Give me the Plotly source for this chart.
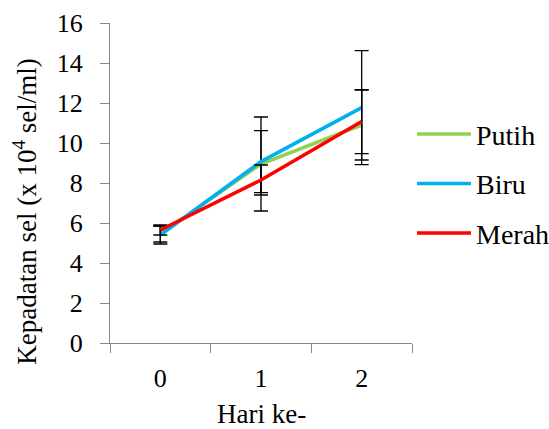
import plotly.graph_objects as go

days = ["0", "1", "2"]
series_names = ["Putih", "Biru", "Merah"]
putih = [5.45, 8.95, 10.9]
biru = [5.4, 9.07, 11.77]
merah = [5.65, 8.15, 11.07]
putih_err = [0.4, 2.35, 1.75]
biru_err = [0.45, 1.55, 2.85]
merah_err = [0.25, 0.75, 1.6]
colors = ["#92D050", "#00B0F0", "#FF0000"]
y_ticks = [0, 2, 4, 6, 8, 10, 12, 14, 16]

FONT = "Liberation Serif"
fig = go.Figure()
for i, (name, vals, err, col) in enumerate(zip(series_names, [putih, biru, merah],
                                                [putih_err, biru_err, merah_err], colors)):
    fig.add_trace(go.Scatter(
        x=days, y=vals, name=name, mode="lines",
        line=dict(color=col, width=3.5),
        error_y=dict(type="data", array=err, visible=True, color="black",
                     thickness=1.3, width=7),
        legendgroup=name,
    ))

fig.update_layout(
    width=549, height=429,
    margin=dict(l=110, r=137, t=23, b=86, autoexpand=False),
    paper_bgcolor="white", plot_bgcolor="white",
    font=dict(family=FONT, size=26, color="black"),
    showlegend=True,
    legend=dict(x=1.0, xanchor="left", y=0.73, yanchor="top",
                font=dict(family=FONT, size=28, color="black"),
                traceorder="grouped", tracegroupgap=10, itemwidth=54,
                bgcolor="rgba(0,0,0,0)"),
    xaxis=dict(type="category", range=[-0.5, 2.5], tickson="boundaries",
               ticks="outside", ticklen=9, tickcolor="#868686",
               showline=True, linecolor="#868686", linewidth=1.3,
               showgrid=False, zeroline=False, ticklabelstandoff=12,
               tickfont=dict(family=FONT, size=26, color="black")),
    yaxis=dict(range=[0, 16], tickvals=y_ticks, ticks="outside", ticklen=9,
               tickcolor="#868686", showline=True, linecolor="#868686",
               linewidth=1.3, showgrid=False, zeroline=False,
               ticklabelstandoff=12, tickfont=dict(family=FONT, size=26, color="black")),
    annotations=[
        dict(text="Kepadatan sel (x 10<sup>4</sup> sel/ml)", textangle=-90,
             xref="paper", yref="paper", x=-0.282, y=0.41,
             xanchor="center", yanchor="middle", showarrow=False,
             font=dict(family=FONT, size=27, color="black")),
        dict(text="Hari ke-", xref="paper", yref="paper", x=0.5, y=-0.222,
             xanchor="center", yanchor="middle", showarrow=False,
             font=dict(family=FONT, size=27, color="black")),
    ],
)

fig.write_html(
    "out.html",
    post_script=("document.body.style.margin='0';"
                 "document.querySelectorAll('.modebar-container').forEach(function(e){e.style.display='none';});"),
)
